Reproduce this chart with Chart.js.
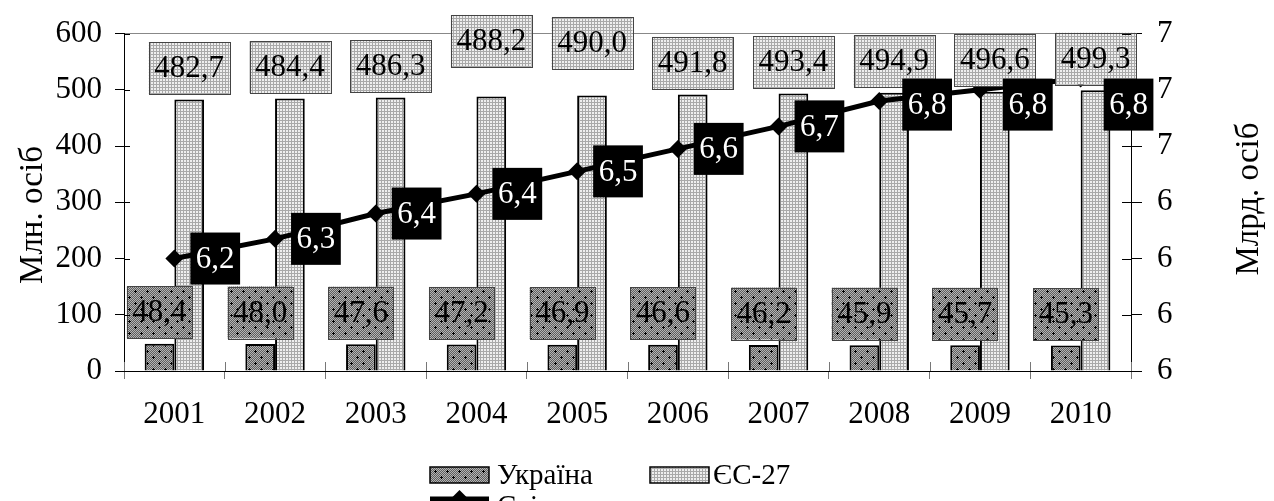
<!DOCTYPE html>
<html>
<head>
<meta charset="utf-8">
<script src="https://cdn.jsdelivr.net/npm/chart.js@4.4.1/dist/chart.umd.min.js"></script>
<style>
  html, body { margin: 0; padding: 0; background: #fff; }
</style>
</head>
<body>
<canvas id="popChart" width="1274" height="501"></canvas>
<script>
/* Population: Ukraine vs EU-27 (mln) and World (bln), 2001-2010 */

const years = ['2001', '2002', '2003', '2004', '2005', '2006', '2007', '2008', '2009', '2010'];
const ukraine = [48.4, 48.0, 47.6, 47.2, 46.9, 46.6, 46.2, 45.9, 45.7, 45.3];
const eu27 = [482.7, 484.4, 486.3, 488.2, 490.0, 491.8, 493.4, 494.9, 496.6, 499.3];
const world = [6.2, 6.27, 6.36, 6.43, 6.51, 6.59, 6.67, 6.76, 6.8, 6.84];

const seriesNames = ['Україна', 'ЄС-27', 'Світ'];
const axisTitles = ['Млн. осіб', 'Млрд. осіб'];

// left axis (mln) and right axis (bln)
const mlnMin = 0, mlnMax = 600, mlnStep = 100;
const blnMin = 5.8, blnMax = 7.0, blnStep = 0.2;

// extra lift Excel gave to a couple of EU labels
const euLabelLift = [0, 0, 0, 24, 21, 0, 0, 0, 0, 0];

const FONT = "'Liberation Serif', 'Times New Roman', serif";

function makePattern(kind) {
  const c = document.createElement('canvas');
  const p = c.getContext('2d');
  if (kind === 'light') {
    c.width = 3; c.height = 3;
    p.fillStyle = '#a9a9a9';
    p.fillRect(0, 0, 3, 3);
    p.fillStyle = '#efefef';
    p.fillRect(1, 1, 2, 2);
  } else {
    c.width = 12; c.height = 12;
    for (let y = 0; y < 12; y++) {
      for (let x = 0; x < 12; x++) {
        p.fillStyle = (x + y) % 2 ? '#5e5e5e' : '#b4b4b4';
        p.fillRect(x, y, 1, 1);
      }
    }
    p.fillStyle = '#000';
    [[3, 3], [9, 9]].forEach(([cx, cy]) => {
      p.fillRect(cx - 1, cy, 3, 1);
      p.fillRect(cx, cy - 1, 1, 3);
    });
  }
  return p.createPattern(c, 'repeat');
}

const darkFill = makePattern('dark');
const lightFill = makePattern('light');

const fmt = v => v.toFixed(1).replace('.', ',');

// value boxes like the Excel data labels
const valueBoxes = {
  id: 'valueBoxes',
  afterDatasetsDraw(chart) {
    const ctx = chart.ctx;
    const area = chart.chartArea;
    ctx.save();
    ctx.font = `31px ${FONT}`;
    ctx.textAlign = 'center';
    ctx.textBaseline = 'middle';

    const box = (left, cy, text, fill, fg, stroke) => {
      const w = ctx.measureText(text).width + 11;
      const h = 52;
      ctx.fillStyle = fill;
      ctx.fillRect(left, cy - h / 2, w, h);
      if (stroke) {
        ctx.strokeStyle = stroke;
        ctx.lineWidth = 1;
        ctx.strokeRect(Math.round(left) + 0.5, Math.round(cy - h / 2) + 0.5, Math.round(w), h);
      }
      ctx.fillStyle = fg;
      ctx.fillText(text, left + w / 2, cy + 1);
    };
    const widthOf = text => ctx.measureText(text).width + 11;

    chart.getDatasetMeta(0).data.forEach((bar, i) => {
      const t = fmt(ukraine[i]);
      box(bar.x - widthOf(t) / 2, bar.y - 5.5 - 26, t, darkFill, '#000', '#444');
    });
    chart.getDatasetMeta(1).data.forEach((bar, i) => {
      const t = fmt(eu27[i]);
      box(bar.x - widthOf(t) / 2, bar.y - 5.5 - 26 - euLabelLift[i], t, lightFill, '#000', '#444');
    });
    chart.getDatasetMeta(2).data.forEach((pt, i) => {
      const t = fmt(world[i]);
      let top = pt.y - 26;
      let dx = 16;
      if (top < area.top + 45) { top = area.top + 45; dx = 23; }
      box(pt.x + dx, top + 26, t, '#000', '#fff', null);
    });
    ctx.restore();
  }
};

// inner halves of the tick marks, axis titles and the legend
const extras = {
  id: 'extras',
  afterDraw(chart) {
    const ctx = chart.ctx;
    const area = chart.chartArea;
    const { x, y, y1 } = chart.scales;
    ctx.save();
    ctx.lineWidth = 1;

    ctx.strokeStyle = '#000';
    y.ticks.forEach(t => {
      const py = Math.round(y.getPixelForValue(t.value)) + 0.5;
      ctx.beginPath(); ctx.moveTo(area.left, py); ctx.lineTo(area.left + 6, py); ctx.stroke();
    });
    y1.ticks.forEach(t => {
      const py = Math.round(y1.getPixelForValue(t.value)) + 0.5;
      ctx.beginPath(); ctx.moveTo(area.right - 9, py); ctx.lineTo(area.right, py); ctx.stroke();
    });
    ctx.strokeStyle = '#777';
    for (let i = 0; i <= years.length; i++) {
      const px = Math.round(x.getPixelForValue(i - 0.5)) + 0.5;
      ctx.beginPath(); ctx.moveTo(px, area.bottom - 9); ctx.lineTo(px, area.bottom); ctx.stroke();
    }

    // axis titles, both reading bottom to top
    ctx.fillStyle = '#000';
    ctx.font = `33px ${FONT}`;
    ctx.textAlign = 'center';
    ctx.textBaseline = 'middle';
    const vTitle = (tx, ty, text) => {
      ctx.translate(tx, ty);
      ctx.rotate(-Math.PI / 2);
      ctx.fillText(text, 0, 0);
      ctx.setTransform(1, 0, 0, 1, 0, 0);
    };
    vTitle(33, 215, axisTitles[0]);
    vTitle(1249, 199, axisTitles[1]);

    // legend
    ctx.font = `29px ${FONT}`;
    ctx.textAlign = 'left';
    const swatch = (sx, sy, fill) => {
      ctx.fillStyle = fill;
      ctx.fillRect(sx, sy, 59, 16);
      ctx.strokeStyle = '#000';
      ctx.lineWidth = 1.5;
      ctx.strokeRect(sx, sy, 59, 16);
    };
    swatch(430, 467, darkFill);
    ctx.fillStyle = '#000';
    ctx.fillText(seriesNames[0], 497, 476);
    swatch(650, 467, lightFill);
    ctx.fillStyle = '#000';
    ctx.fillText(seriesNames[1], 713, 476);

    ctx.strokeStyle = '#000';
    ctx.lineWidth = 5;
    ctx.beginPath(); ctx.moveTo(430, 499); ctx.lineTo(489, 499); ctx.stroke();
    ctx.beginPath();
    ctx.moveTo(459.5, 490); ctx.lineTo(468.5, 499); ctx.lineTo(459.5, 508); ctx.lineTo(450.5, 499);
    ctx.closePath(); ctx.fill();
    ctx.fillText(seriesNames[2], 497, 507);
    ctx.restore();
  }
};

new Chart(document.getElementById('popChart'), {
  data: {
    labels: years,
    datasets: [
      {
        type: 'bar',
        label: seriesNames[0],
        data: ukraine,
        backgroundColor: darkFill,
        borderColor: '#000',
        borderWidth: 2,
        yAxisID: 'y',
        order: 2
      },
      {
        type: 'bar',
        label: seriesNames[1],
        data: eu27,
        backgroundColor: lightFill,
        borderColor: '#000',
        borderWidth: 2,
        yAxisID: 'y',
        order: 2
      },
      {
        type: 'line',
        label: seriesNames[2],
        data: world,
        borderColor: '#000',
        backgroundColor: '#000',
        borderWidth: 5,
        pointStyle: 'rectRot',
        pointRadius: 9,
        pointBorderWidth: 0,
        tension: 0,
        yAxisID: 'y1',
        order: 1
      }
    ]
  },
  options: {
    responsive: false,
    devicePixelRatio: 1,
    animation: false,
    categoryPercentage: 0.59,
    barPercentage: 1.0,
    layout: { padding: { top: 30, left: 0, right: 0, bottom: 0 } },
    plugins: {
      legend: { display: false },
      tooltip: { enabled: false }
    },
    scales: {
      x: {
        grid: { offset: true, drawOnChartArea: false, tickLength: 8, tickColor: '#777' },
        border: { color: '#000', width: 1 },
        ticks: { color: '#000', font: { family: FONT, size: 31 }, padding: 17, maxRotation: 0 },
        afterFit: s => { s.height = 130; }
      },
      y: {
        position: 'left',
        min: mlnMin,
        max: mlnMax,
        ticks: { stepSize: mlnStep, color: '#000', font: { family: FONT, size: 31 }, padding: 13 },
        grid: {
          color: c => (c.tick && c.tick.value === mlnMax ? '#888' : 'rgba(0,0,0,0)'),
          tickColor: '#000',
          tickLength: 9
        },
        border: { color: '#000', width: 1 },
        afterFit: s => { s.width = 124; }
      },
      y1: {
        position: 'right',
        min: blnMin,
        max: blnMax,
        ticks: {
          stepSize: blnStep,
          color: '#000',
          font: { family: FONT, size: 31 },
          padding: 15,
          callback: v => Math.round(v)
        },
        grid: { drawOnChartArea: false, tickColor: '#000', tickLength: 11 },
        border: { color: '#000', width: 1 },
        afterFit: s => { s.width = 143; }
      }
    }
  },
  plugins: [valueBoxes, extras]
});
</script>
</body>
</html>
